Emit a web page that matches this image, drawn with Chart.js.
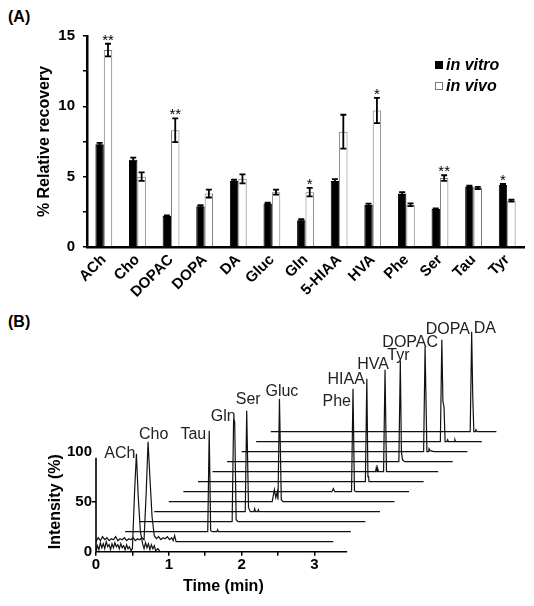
<!DOCTYPE html>
<html>
<head>
<meta charset="utf-8">
<script src="https://cdn.jsdelivr.net/npm/chart.js@4.4.0/dist/chart.umd.min.js"></script>
<style>
  body { margin: 0; background: #fff; width: 534px; height: 606px; position: relative; overflow: hidden;
         font-family: "Liberation Sans", Arial, sans-serif; }
  canvas { position: absolute; left: 0; }
  #chartA { top: 0; }
  #chartB { top: 290px; }
  .tag { position: absolute; left: 8px; font-weight: bold; font-size: 16px; color: #000; }
</style>
</head>
<body>
<div class="tag" style="top:8px">(A)</div>
<div class="tag" style="top:313px">(B)</div>
<canvas id="chartA" width="534" height="320"></canvas>
<canvas id="chartB" width="534" height="316"></canvas>
<script>
"use strict";

// ---- panel A data ----
const compounds = ["ACh", "Cho", "DOPAC", "DOPA", "DA", "Gluc", "Gln", "5-HIAA", "HVA", "Phe", "Ser", "Tau", "Tyr"];
const inVitro = [7.3, 6.2, 2.2, 2.9, 4.7, 3.1, 1.9, 4.7, 3.0, 3.8, 2.7, 4.3, 4.4];
const inVivo = [14.0, 5.0, 8.3, 3.8, 4.85, 3.9, 3.9, 8.2, 9.7, 3.0, 4.9, 4.2, 3.3];
const errVitro = [0.1, 0.15, 0.05, 0.08, 0.08, 0.05, 0.08, 0.12, 0.08, 0.1, 0.05, 0.06, 0.08];
const errVivo = [0.45, 0.3, 0.85, 0.28, 0.32, 0.18, 0.3, 1.2, 0.9, 0.1, 0.2, 0.08, 0.07];
const stars = ["**", "", "**", "", "", "", "*", "", "*", "", "**", "", "*"];
const starBar = [1, 1, 1, 1, 1, 1, 1, 1, 1, 1, 1, 1, 0]; // 0 = in vitro bar, 1 = in vivo bar
const yTicksA = [0, 5, 10, 15];

// ---- panel B data (time in min, intensity in %, as stacked in the plot) ----
const traceNames = ["ACh", "Cho", "Tau", "Gln", "Ser", "Gluc", "Phe", "HIAA", "HVA", "Tyr", "DOPAC", "DOPA", "DA"];
const traces = [
  [[0, 0], [0.02, 6], [0.04, 2], [0.06, 9], [0.08, 4], [0.1, 8], [0.12, 3], [0.14, 10], [0.16, 5], [0.18, 7],
   [0.2, 2], [0.22, 8], [0.24, 4], [0.26, 9], [0.28, 5], [0.3, 7], [0.32, 3], [0.34, 8], [0.36, 4], [0.38, 6],
   [0.4, 2], [0.42, 7], [0.44, 3], [0.46, 5], [0.48, 1], [0.5, 3], [0.53, 60], [0.555, 98], [0.58, 55],
   [0.61, 20], [0.64, 8], [0.66, 3], [0.68, 9], [0.7, 4], [0.72, 8], [0.74, 2], [0.76, 7], [0.78, 3],
   [0.8, 6], [0.82, 1], [0.85, 3], [0.88, 0], [3.37, 0]],
  [[0, 10], [0.03, 14], [0.06, 11], [0.09, 15], [0.12, 12], [0.15, 14], [0.18, 11], [0.21, 13], [0.24, 12],
   [0.27, 15], [0.3, 11], [0.33, 13], [0.36, 12], [0.39, 14], [0.42, 11], [0.45, 13], [0.48, 12], [0.51, 14],
   [0.54, 11], [0.57, 13], [0.6, 12], [0.63, 14], [0.66, 12], [0.69, 60], [0.715, 110], [0.74, 75],
   [0.77, 35], [0.8, 16], [0.83, 13], [0.86, 15], [0.89, 12], [0.92, 14], [0.95, 13], [0.98, 15],
   [1.01, 12], [1.04, 14], [1.06, 11], [1.08, 16], [1.1, 10], [3.26, 10]],
  [[0.4, 20], [1.535, 20], [1.555, 121], [1.575, 21], [1.6, 20], [1.66, 20], [1.67, 22], [1.68, 20], [3.5, 20]],
  [[0.6, 30], [1.87, 30], [1.89, 132], [1.905, 130], [1.925, 32], [1.95, 30], [3.7, 30]],
  [[0.8, 40], [2.05, 40], [2.07, 141], [2.095, 44], [2.12, 40], [2.17, 40], [2.18, 43], [2.19, 40],
   [2.22, 40], [2.23, 42], [2.24, 40], [3.9, 40]],
  [[1.0, 50], [2.42, 50], [2.45, 62], [2.47, 54], [2.49, 60], [2.5, 52], [2.52, 153], [2.545, 52], [2.57, 50], [4.1, 50]],
  [[1.2, 60], [3.24, 60], [3.26, 63], [3.28, 60], [3.51, 60], [3.53, 163], [3.55, 61], [3.57, 60], [4.3, 60]],
  [[1.4, 70], [3.7, 70], [3.72, 173], [3.735, 75], [3.745, 75], [3.75, 70], [4.5, 70]],
  [[1.6, 80], [3.84, 80], [3.85, 84], [3.86, 80], [3.87, 83], [3.88, 80], [3.95, 80], [3.97, 182], [3.99, 80], [4.7, 80]],
  [[1.8, 90], [4.16, 90], [4.18, 191], [4.195, 100], [4.21, 92], [4.24, 90], [4.9, 90]],
  [[2.0, 100], [4.5, 100], [4.52, 205], [4.545, 100], [4.57, 100], [4.575, 103], [4.59, 101], [4.64, 100], [5.1, 100]],
  [[2.2, 110], [4.73, 110], [4.75, 212], [4.765, 150], [4.78, 145], [4.795, 110], [4.82, 110], [4.83, 112],
   [4.84, 110], [4.92, 110], [4.93, 112], [4.94, 110], [5.3, 110]],
  [[2.4, 120], [5.14, 120], [5.16, 220], [5.175, 155], [5.19, 120], [5.21, 120], [5.22, 122], [5.235, 120], [5.5, 120]],
];
const xTicksB = [0, 1, 2, 3];
const yTicksB = [0, 50, 100];

// label placement next to each peak top (px): text align, dx, dy
const labelAlign = ["right", "left", "right", "right", "left", "left", "right", "right", "right", "left", "right", "left", "left"];
const labelDx = [-1, -9, -3, 2, -11, -14, -2, -2, 4, -13, 13, -16, 2];
const labelDy = [0, -7, 4, -3, -11, -7, 13, 1, -5, -5, -4, -10, -3];

const FONT = "'Liberation Sans', Arial, sans-serif";

// error bars and significance stars
const errorBars = {
  id: "errorBars",
  afterDatasetsDraw(chart) {
    const ctx = chart.ctx;
    const y = chart.scales.y;
    ctx.save();
    ctx.strokeStyle = "#000";
    ctx.lineWidth = 1.8;
    chart.data.datasets.forEach((ds, i) => {
      chart.getDatasetMeta(i).data.forEach((bar, j) => {
        const hi = y.getPixelForValue(ds.data[j] + ds.errors[j]);
        const lo = y.getPixelForValue(ds.data[j] - ds.errors[j]);
        ctx.beginPath();
        ctx.moveTo(bar.x, hi);
        ctx.lineTo(bar.x, lo);
        ctx.moveTo(bar.x - 3, hi);
        ctx.lineTo(bar.x + 3, hi);
        ctx.moveTo(bar.x - 3, lo);
        ctx.lineTo(bar.x + 3, lo);
        ctx.stroke();
        if (stars[j] && starBar[j] === i) {
          ctx.fillStyle = "#000";
          ctx.font = "15px " + FONT;
          ctx.textAlign = "center";
          ctx.textBaseline = "alphabetic";
          ctx.fillText(stars[j], bar.x, hi + 1);
        }
      });
    });
    ctx.restore();
  },
};

// legend in the upper right corner
const cornerLegend = {
  id: "cornerLegend",
  afterDraw(chart) {
    const ctx = chart.ctx;
    ctx.save();
    chart.data.datasets.forEach((ds, i) => {
      const y = 65 + i * 21;
      ctx.fillStyle = ds.backgroundColor;
      ctx.strokeStyle = ds.borderColor;
      ctx.lineWidth = 1;
      ctx.fillRect(435.5, y - 3.5, 7, 7);
      ctx.strokeRect(435.5, y - 3.5, 7, 7);
      ctx.fillStyle = "#000";
      ctx.font = "italic bold 16px " + FONT;
      ctx.textAlign = "left";
      ctx.textBaseline = "middle";
      ctx.fillText(ds.label, 446, y + 1);
    });
    ctx.restore();
  },
};

new Chart(document.getElementById("chartA"), {
  type: "bar",
  data: {
    labels: compounds,
    datasets: [
      { label: "in vitro", data: inVitro, errors: errVitro, backgroundColor: "#000", borderColor: "#000", borderWidth: 1 },
      { label: "in vivo", data: inVivo, errors: errVivo, backgroundColor: "#fff", borderColor: "#777", borderWidth: 1 },
    ],
  },
  options: {
    responsive: false,
    animation: false,
    devicePixelRatio: 1,
    layout: { padding: { top: 36, right: 10, left: 0, bottom: 0 } },
    datasets: { bar: { categoryPercentage: 0.5, barPercentage: 1 } },
    plugins: { legend: { display: false }, tooltip: { enabled: false } },
    scales: {
      x: {
        grid: { display: false, drawTicks: false },
        border: { color: "#000", width: 2.5 },
        ticks: { color: "#000", font: { family: FONT, size: 15, weight: "bold" }, minRotation: 45, maxRotation: 45, padding: 4 },
        afterFit(scale) { scale.height = 73; },
      },
      y: {
        min: 0,
        max: 15,
        border: { color: "#000", width: 2.5 },
        grid: { drawOnChartArea: false, tickLength: 4, color: "#000", lineWidth: 1.5 },
        ticks: {
          stepSize: 2.5,
          color: "#000",
          padding: 8,
          font: { family: FONT, size: 15, weight: "bold" },
          callback: (v) => (yTicksA.includes(v) ? v : ""),
        },
        title: { display: true, text: "% Relative recovery", color: "#000", font: { family: FONT, size: 16, weight: "bold" }, padding: { top: 35, bottom: 0 } },
        afterFit(scale) { scale.width = 87; },
      },
    },
  },
  plugins: [errorBars, cornerLegend],
});

// short axis lines, axis titles and peak labels of panel B
const stackedAxes = {
  id: "stackedAxes",
  afterDatasetsDraw(chart) {
    const ctx = chart.ctx;
    const x = chart.scales.x;
    const y = chart.scales.y;
    const x0 = x.getPixelForValue(0);
    const y0 = y.getPixelForValue(0);
    ctx.save();
    ctx.strokeStyle = "#000";
    ctx.lineWidth = 1.6;
    ctx.beginPath();
    ctx.moveTo(x0, y.getPixelForValue(94));
    ctx.lineTo(x0, y0);
    ctx.lineTo(x.getPixelForValue(3.45), y0);
    ctx.stroke();

    ctx.fillStyle = "#000";
    ctx.font = "bold 16px " + FONT;
    ctx.textAlign = "center";
    ctx.textBaseline = "middle";
    ctx.fillText("Time (min)", x.getPixelForValue(1.75), y0 + 35);
    ctx.save();
    ctx.translate(x0 - 40, y.getPixelForValue(50));
    ctx.rotate(-Math.PI / 2);
    ctx.fillText("Intensity (%)", 0, 0);
    ctx.restore();

    ctx.fillStyle = "#222";
    ctx.font = "16px " + FONT;
    chart.data.datasets.forEach((ds, i) => {
      let top = ds.data[0];
      ds.data.forEach((p) => { if (p.y > top.y) top = p; });
      ctx.textAlign = labelAlign[i];
      ctx.fillText(ds.label, x.getPixelForValue(top.x) + labelDx[i], y.getPixelForValue(top.y) + labelDy[i]);
    });
    ctx.restore();
  },
};

new Chart(document.getElementById("chartB"), {
  type: "scatter",
  data: {
    datasets: traces.map((t, i) => ({
      label: traceNames[i],
      data: t.map((p) => ({ x: p[0], y: p[1] })),
      showLine: true,
      pointRadius: 0,
      borderColor: "#111",
      borderWidth: 1.2,
      tension: 0,
    })),
  },
  options: {
    responsive: false,
    animation: false,
    devicePixelRatio: 1,
    layout: { padding: { top: 31.7, right: 30.3, left: 0, bottom: 0 } },
    plugins: { legend: { display: false }, tooltip: { enabled: false } },
    scales: {
      x: {
        type: "linear",
        min: 0,
        max: 5.6,
        border: { display: false },
        grid: {
          drawOnChartArea: false,
          tickLength: 4,
          lineWidth: 1.5,
          color: (c) => (c.tick && c.tick.value <= 3 ? "#000" : "rgba(0,0,0,0)"),
        },
        ticks: {
          stepSize: 0.5,
          padding: 0,
          color: "#000",
          font: { family: FONT, size: 15, weight: "bold" },
          callback: (v) => (xTicksB.includes(v) ? v : ""),
        },
        afterFit(scale) { scale.height = 54.3; },
      },
      y: {
        min: 0,
        max: 230,
        border: { display: false },
        grid: {
          drawOnChartArea: false,
          tickLength: 4,
          lineWidth: 1.5,
          color: (c) => (c.tick && c.tick.value === 50 ? "#000" : "rgba(0,0,0,0)"),
        },
        ticks: {
          stepSize: 50,
          padding: 0,
          color: "#000",
          font: { family: FONT, size: 15, weight: "bold" },
          callback: (v) => (yTicksB.includes(v) ? v : ""),
        },
        afterFit(scale) { scale.width = 96; },
      },
    },
  },
  plugins: [stackedAxes],
});
</script>
</body>
</html>
